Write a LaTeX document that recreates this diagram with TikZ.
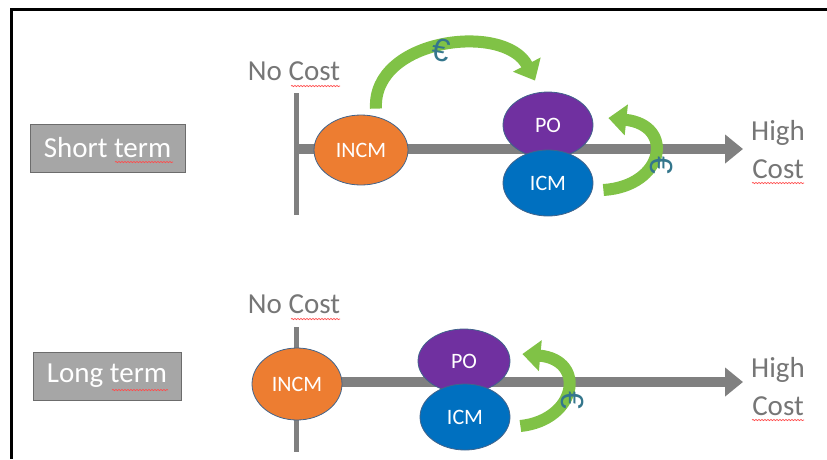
\documentclass[tikz,border=0pt]{standalone}
\usepackage{fontspec}
\setmainfont{Carlito}
\newfontfamily\eurofont{Liberation Sans}
\usepackage{xcolor}
\usepackage{tikz}
\usetikzlibrary{shapes, arrows.meta, positioning, calc, decorations.pathmorphing}

\definecolor{axisgray}{RGB}{128,128,128}
\definecolor{labelgray}{RGB}{118,118,118}
\definecolor{boxgray}{RGB}{166,166,166}
\definecolor{incmorange}{RGB}{237,125,49}
\definecolor{popurple}{RGB}{112,48,160}
\definecolor{icmblue}{RGB}{0,112,192}
\definecolor{moneygreen}{RGB}{128,194,70}
\definecolor{eurocol}{RGB}{52,118,140}
\definecolor{rimcol}{RGB}{65,100,140}

\begin{document}
\begin{tikzpicture}[x=1pt, y=-1pt,
    termbox/.style={draw=gray!85!black, fill=boxgray, text=white, minimum height=48pt, font=\fontsize{29}{34}\selectfont},
    costlabel/.style={text=labelgray, inner sep=0pt, font=\fontsize{29}{34}\selectfont},
    mechnode/.style={ellipse, draw=rimcol, line width=0.8pt, text=white, inner sep=0pt, font=\fontsize{22}{26}\selectfont},
    axisline/.style={draw=axisgray, line width=5pt},
    costaxis/.style={draw=axisgray, line width=10pt, -{Triangle[length=18pt, width=28pt]}},
    money/.style={draw=moneygreen, line width=12pt, -{Triangle[length=18pt, width=30pt]}},
    euro/.style={text=eurocol, inner sep=0pt, font=\eurofont\fontsize{32}{36}\selectfont},
    spell/.style={draw=red!70, line width=0.7pt, decorate, decoration={snake, amplitude=0.6pt, segment length=3pt}}
  ]
    \useasboundingbox (0,0) rectangle (827,459);

    % Frame
    \draw[line width=3pt] (827,9.5) -- (11.5,9.5) -- (11.5,459);

    % Short term
    \node[termbox, minimum width=155pt] (short) at (107.5,148) {Short term};
    \node[costlabel] (snocost) at (294,71) {No Cost};
    \coordinate (stop) at (296,93);
    \coordinate (sbot) at (296,215);
    \coordinate (sorig) at (296,149);
    \coordinate (send) at (743,149);
    \draw[axisline] (stop) -- (sbot);
    \draw[costaxis] (sorig) -- (send);
    \node[costlabel] (shigh) at (778,133) {High};
    \node[costlabel] (scost) at (778,169) {Cost};

    \node[mechnode, fill=incmorange, minimum width=94pt, minimum height=70pt] (sincm) at (361,150) {INCM};
    \node[mechnode, fill=popurple, minimum width=90pt, minimum height=66pt] (spo) at (548,125) {PO};
    \node[mechnode, fill=icmblue, minimum width=90pt, minimum height=66pt] (sicm) at (548,183) {ICM};

    % Money flows, short term
    \draw[money] ($(sincm.north)+(15,-6)$) .. controls (372,38) and (505,22) .. ($(spo.north)+(-13,-11)$);
    \node[euro, rotate=-10] (seuro) at (441,50) {€};
    \draw[money] ($(sicm.east)+(10,7)$) .. controls (665,186) and (675,125) .. ($(spo.east)+(15,-7)$);
    \node[euro, rotate=-90] (seuro2) at (662,165) {€};

    % Long term
    \node[termbox, minimum width=148pt] (long) at (107,376) {Long term};
    \node[costlabel] (lnocost) at (294,304) {No Cost};
    \coordinate (ltop) at (296,327);
    \coordinate (lbot) at (296,452);
    \coordinate (lorig) at (296,382);
    \coordinate (lend) at (743,382);
    \draw[axisline] (ltop) -- (lbot);
    \draw[costaxis] (lorig) -- (lend);
    \node[costlabel] (lhigh) at (778,370) {High};
    \node[costlabel] (lcost) at (778,406) {Cost};

    \node[mechnode, fill=incmorange, minimum width=90pt, minimum height=72pt] (lincm) at (297,384) {INCM};
    \node[mechnode, fill=popurple, minimum width=92pt, minimum height=64pt] (lpo) at (464,361) {PO};
    \node[mechnode, fill=icmblue, minimum width=90pt, minimum height=66pt] (licm) at (465,417) {ICM};

    % Money flow, long term
    \draw[money] ($(licm.east)+(10,9)$) .. controls (577,420) and (587,360) .. ($(lpo.east)+(12,-7)$);
    \node[euro, rotate=-90] (leuro) at (573,400) {€};

    % Spelling marks
    \draw[spell] (291,86) -- (340,86);
    \draw[spell] (291,319) -- (340,319);
    \draw[spell] (115,162) -- (173,162);
    \draw[spell] (112,390) -- (168,390);
    \draw[spell] (752,183) -- (804,183);
    \draw[spell] (752,420) -- (804,420);
\end{tikzpicture}
\end{document}
